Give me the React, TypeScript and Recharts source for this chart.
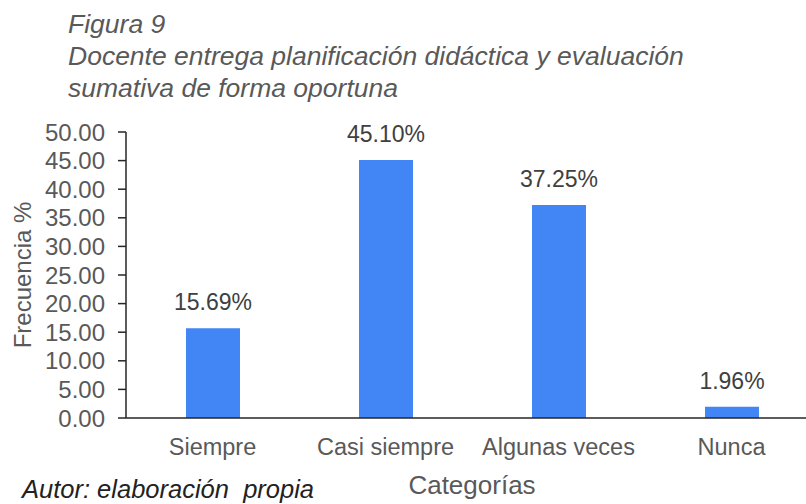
import React from 'react';
import { BarChart, Bar, XAxis, YAxis, LabelList } from 'recharts';

const categories = ['Siempre', 'Casi siempre', 'Algunas veces', 'Nunca'];
const frecuencia = [15.69, 45.1, 37.25, 1.96];
const yTicks = [0, 5, 10, 15, 20, 25, 30, 35, 40, 45, 50];

const data = categories.map((name, i) => ({ name, value: frecuencia[i] }));

const FONT = '"Liberation Sans", Arial, sans-serif';
const GRAY = '#595959';

const YLabel = (props: any) => {
    const vb = props.viewBox || {};
    const cy = vb.y + vb.height / 2;
    return (
        <text
            x={31}
            y={cy}
            transform={`rotate(-90, 31, ${cy})`}
            textAnchor="middle"
            fill={GRAY}
            fontSize={24}
            fontFamily={FONT}
        >
            Frecuencia %
        </text>
    );
};

const App: React.FC = () => {
    return (
        <div className="fig">
            <div className="fig-title">
                <div>Figura 9</div>
                <div>Docente entrega planificación didáctica y evaluación</div>
                <div>sumativa de forma oportuna</div>
            </div>
            <div className="fig-chart">
                <BarChart
                    width={830}
                    height={504}
                    data={data}
                    margin={{ top: 132, right: 12, left: 0, bottom: 6 }}
                >
                    <YAxis
                        width={126}
                        domain={[0, 50]}
                        ticks={yTicks}
                        interval={0}
                        tickFormatter={(v: number) => v.toFixed(2)}
                        axisLine={{ stroke: '#262626', strokeWidth: 1.5 }}
                        tickLine={{ stroke: '#262626', strokeWidth: 1.5 }}
                        tickSize={8}
                        tickMargin={13}
                        tick={{ fill: GRAY, fontSize: 24, fontFamily: FONT }}
                        label={<YLabel />}
                    />
                    <XAxis
                        dataKey="name"
                        height={80}
                        axisLine={{ stroke: '#262626', strokeWidth: 1.5 }}
                        tickLine={false}
                        tickSize={0}
                        tickMargin={20}
                        interval={0}
                        tick={{ fill: GRAY, fontSize: 23.5, fontFamily: FONT }}
                        label={{
                            value: 'Categorías',
                            position: 'insideBottom',
                            offset: 4,
                            fill: GRAY,
                            fontSize: 26,
                            fontFamily: FONT,
                        }}
                    />
                    <Bar dataKey="value" fill="#4285F4" barSize={54} isAnimationActive={false}>
                        <LabelList
                            dataKey="value"
                            position="top"
                            offset={18}
                            formatter={(v: any) => `${Number(v).toFixed(2)}%`}
                            fill="#404040"
                            fontSize={23}
                            fontFamily={FONT}
                        />
                    </Bar>
                </BarChart>
            </div>
            <div className="fig-author">Autor: elaboración&nbsp; propia</div>
            <style>{`
        .fig {
            position: fixed;
            left: 0;
            top: 0;
            width: 806px;
            height: 504px;
            overflow: hidden;
            background: #fff;
            font-family: ${FONT};
        }
        .fig-chart {
            position: absolute;
            left: 0;
            top: 0;
        }
        .fig-title {
            position: absolute;
            left: 68px;
            top: 8px;
            font-size: 26.5px;
            line-height: 32px;
            font-style: italic;
            color: ${GRAY};
            white-space: nowrap;
            z-index: 1;
        }
        .fig-author {
            position: absolute;
            left: 22px;
            top: 475px;
            font-size: 25.5px;
            line-height: normal;
            font-style: italic;
            color: #222;
            white-space: nowrap;
        }
      `}</style>
        </div>
    );
};

export default App;
